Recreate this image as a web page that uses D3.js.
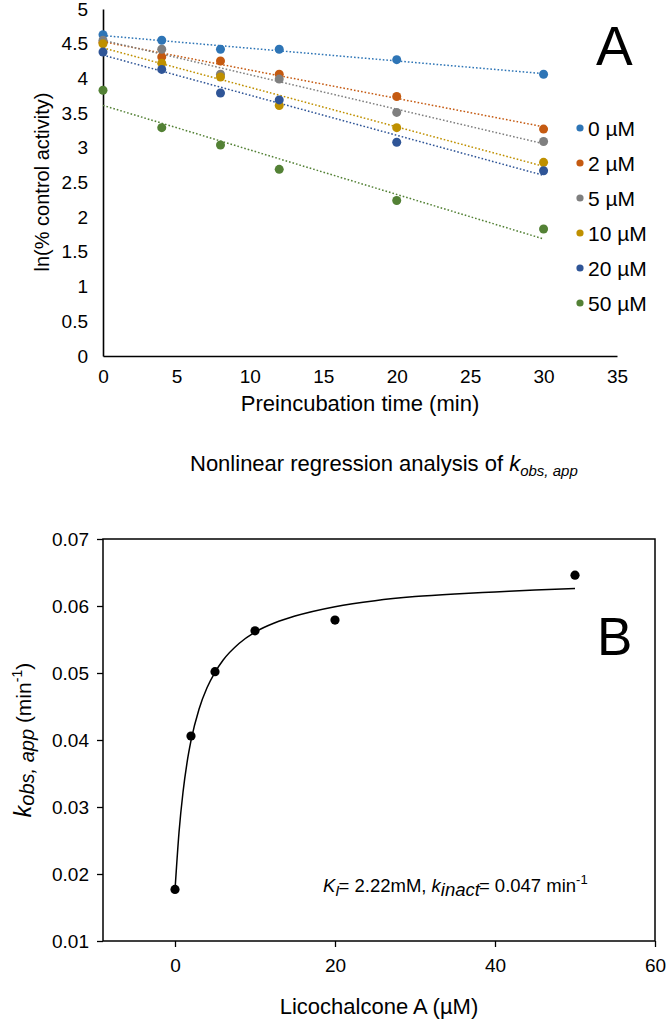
<!DOCTYPE html>
<html><head><meta charset="utf-8">
<script src="https://cdn.jsdelivr.net/npm/d3@7"></script>
<style>
body{margin:0;background:#fff}
svg{display:block}
text{font-family:"Liberation Sans",Arial,sans-serif;fill:#000}
</style>
</head><body>
<svg id="c" width="666" height="1020"></svg>
<script>
// ---------- Panel A data ----------
const timesA = [0, 4, 8, 12, 20, 30];
const seriesNames = ["0 µM", "2 µM", "5 µM", "10 µM", "20 µM", "50 µM"];
const seriesColors = ["#2E75B6", "#C55A11", "#7F7F7F", "#BF9000", "#2F5597", "#538135"];
const s0uM  = [4.63, 4.55, 4.42, 4.42, 4.27, 4.06];
const s2uM  = [4.52, 4.31, 4.25, 4.06, 3.74, 3.27];
const s5uM  = [4.55, 4.42, 4.06, 3.99, 3.51, 3.09];
const s10uM = [4.50, 4.22, 4.02, 3.61, 3.29, 2.79];
const s20uM = [4.38, 4.13, 3.79, 3.69, 3.08, 2.67];
const s50uM = [3.83, 3.29, 3.04, 2.69, 2.24, 1.83];
const seriesA = [s0uM, s2uM, s5uM, s10uM, s20uM, s50uM];
const yTicksA = [0, 0.5, 1, 1.5, 2, 2.5, 3, 3.5, 4, 4.5, 5];
const xTicksA = [0, 5, 10, 15, 20, 25, 30, 35];

// ---------- Panel B data ----------
const concB = [0, 2, 5, 10, 20, 50];
const kobsB = [0.0177, 0.0406, 0.0502, 0.0563, 0.0579, 0.0646];
const fitX = [0, 0.5, 1, 1.5, 2, 3, 4, 5, 6, 8, 10, 12.5, 15, 20, 25, 30, 35, 40, 45, 50];
const fitY = [0.0176, 0.0262, 0.0322, 0.0366, 0.0399, 0.0446, 0.0478, 0.0501, 0.0519, 0.0544,
              0.0561, 0.0575, 0.0585, 0.0599, 0.0608, 0.0614, 0.0618, 0.0621, 0.0624, 0.0626];
const yTicksB = [0.01, 0.02, 0.03, 0.04, 0.05, 0.06, 0.07];
const xTicksB = [0, 20, 40, 60];

const svg = d3.select("#c");

// ================= Panel A =================
const xA = d3.scaleLinear().domain([0, 35]).range([103, 617]);
const yA = d3.scaleLinear().domain([0, 5]).range([356, 9]);

const gA = svg.append("g");
const axYA = gA.append("g").attr("transform", `translate(${xA(0)},0)`)
  .call(d3.axisLeft(yA).tickValues(yTicksA).tickSize(0).tickSizeOuter(0).tickPadding(15).tickFormat(d3.format("~g")));
const axXA = gA.append("g").attr("transform", `translate(0,${yA(0)})`)
  .call(d3.axisBottom(xA).tickValues(xTicksA).tickSize(0).tickSizeOuter(0).tickPadding(14).tickFormat(d3.format("d")));
[axYA, axXA].forEach(a => {
  a.select(".domain").attr("stroke", "#000").attr("stroke-width", 1.6);
  a.selectAll("text").attr("font-size", 19).attr("font-family", '"Liberation Sans",Arial,sans-serif').attr("fill", "#111");
});

// trendlines (least-squares fit of each series)
function linFit(xs, ys) {
  const mx = d3.mean(xs), my = d3.mean(ys);
  let sxy = 0, sxx = 0;
  xs.forEach((x, i) => { sxy += (x - mx) * (ys[i] - my); sxx += (x - mx) * (x - mx); });
  const b = sxy / sxx;
  return { b, a: my - b * mx };
}
const lineA = d3.line().x(d => xA(d[0])).y(d => yA(d[1]));
seriesA.forEach((s, i) => {
  const f = linFit(timesA, s);
  const t0 = d3.min(timesA), t1 = d3.max(timesA);
  gA.append("path")
    .attr("d", lineA([[t0, f.a + f.b * t0], [t1, f.a + f.b * t1]]))
    .attr("fill", "none").attr("stroke", seriesColors[i])
    .attr("stroke-width", 1.5).attr("stroke-dasharray", "1.6,2");
});
seriesA.forEach((s, i) => {
  gA.append("g").selectAll("circle").data(s).join("circle")
    .attr("cx", (d, j) => xA(timesA[j])).attr("cy", d => yA(d))
    .attr("r", 4.5).attr("fill", seriesColors[i]);
});

// legend
const leg = gA.append("g");
seriesNames.forEach((n, i) => {
  const y = 128 + i * 35;
  leg.append("circle").attr("cx", 580).attr("cy", y).attr("r", 3.6).attr("fill", seriesColors[i]);
  leg.append("text").attr("x", 588).attr("y", y).attr("dy", "0.36em")
    .attr("font-size", 21).attr("fill", "#222").text(n);
});

// labels
gA.append("text").attr("transform", "translate(49,182) rotate(-90)")
  .attr("text-anchor", "middle").attr("font-size", 20).attr("fill", "#222").text("ln(% control activity)");
gA.append("text").attr("x", 360).attr("y", 411).attr("text-anchor", "middle")
  .attr("font-size", 22).attr("fill", "#222").text("Preincubation time (min)");
gA.append("text").attr("x", 596).attr("y", 65).attr("font-size", 55).text("A");

// subtitle
const sub = svg.append("text").attr("x", 190).attr("y", 471).attr("font-size", 22).attr("fill", "#222");
sub.append("tspan").text("Nonlinear regression analysis of ");
sub.append("tspan").attr("font-style", "italic").text("k");
sub.append("tspan").attr("font-style", "italic").attr("font-size", 15).attr("dy", 5).text("obs, app");

// ================= Panel B =================
const xB = d3.scaleLinear().domain([-9, 60]).range([103, 655]);
const yB = d3.scaleLinear().domain([0.01, 0.07]).range([941, 539]);
const gB = svg.append("g");

gB.append("rect").attr("x", xB(-9)).attr("y", yB(0.07))
  .attr("width", xB(60) - xB(-9)).attr("height", yB(0.01) - yB(0.07))
  .attr("fill", "none").attr("stroke", "#000").attr("stroke-width", 1.5);

const axYB = gB.append("g").attr("transform", `translate(${xB(-9)},0)`)
  .call(d3.axisLeft(yB).tickValues(yTicksB).tickSize(6).tickSizeOuter(0).tickPadding(8).tickFormat(d3.format(".2f")));
const axXB = gB.append("g").attr("transform", `translate(0,${yB(0.01)})`)
  .call(d3.axisBottom(xB).tickValues(xTicksB).tickSize(6).tickSizeOuter(0).tickPadding(12).tickFormat(d3.format("d")));
[axYB, axXB].forEach(a => {
  a.select(".domain").remove();
  a.selectAll("line").attr("stroke", "#000").attr("stroke-width", 1.3);
  a.selectAll("text").attr("font-size", 19).attr("font-family", '"Liberation Sans",Arial,sans-serif').attr("fill", "#1a1a3a");
});

const lineB = d3.line().x((d, i) => xB(fitX[i])).y(d => yB(d)).curve(d3.curveMonotoneX);
gB.append("path").attr("d", lineB(fitY)).attr("fill", "none").attr("stroke", "#000").attr("stroke-width", 1.5);
gB.append("g").selectAll("circle").data(kobsB).join("circle")
  .attr("cx", (d, i) => xB(concB[i])).attr("cy", d => yB(d)).attr("r", 4.6).attr("fill", "#000");

// y label B
const yl = gB.append("text").attr("transform", "translate(31,740) rotate(-90)")
  .attr("text-anchor", "middle").attr("font-size", 21).attr("fill", "#222");
yl.append("tspan").attr("font-style", "italic").attr("font-size", 23).text("k");
yl.append("tspan").attr("font-style", "italic").attr("font-size", 20).attr("dy", 3).text("obs, app");
yl.append("tspan").attr("dy", -3).text(" (min");
yl.append("tspan").attr("font-size", 14).attr("dy", -9).text("-1");
yl.append("tspan").attr("dy", 9).text(")");

gB.append("text").attr("x", 379).attr("y", 1014).attr("text-anchor", "middle")
  .attr("font-size", 22).attr("fill", "#222").text("Licochalcone A (µM)");
gB.append("text").attr("x", 597).attr("y", 655).attr("font-size", 53).text("B");

// annotation
const an = gB.append("text").attr("x", 323).attr("y", 892).attr("font-size", 18.5).attr("fill", "#1a1a2a");
an.append("tspan").attr("font-style", "italic").text("K");
an.append("tspan").attr("font-style", "italic").attr("font-size", 15).attr("dy", 4).text("I");
an.append("tspan").attr("dy", -4).attr("dx", -1).text("= 2.22mM, ");
an.append("tspan").attr("font-style", "italic").text("k");
an.append("tspan").attr("font-style", "italic").attr("font-size", 18.5).attr("dy", 4).text("inact");
an.append("tspan").attr("dy", -4).attr("dx", -1).text("= 0.047 min");
an.append("tspan").attr("font-size", 13).attr("dy", -8).text("-1");
</script>
</body></html>
